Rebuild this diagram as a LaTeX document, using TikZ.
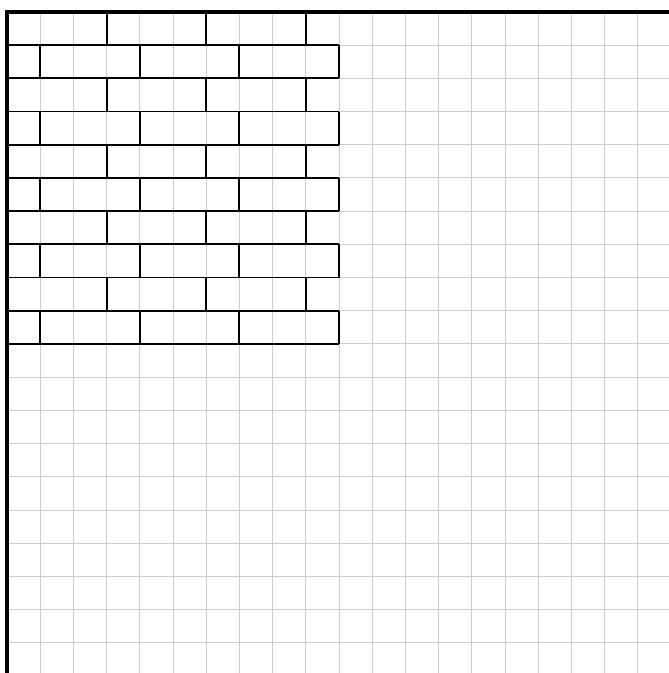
\documentclass[tikz,border=0pt]{standalone}
\usepackage{tikz}

\begin{document}
\begin{tikzpicture}[x=1cm,y=1cm,
    gridline/.style={black!20,line width=0.8pt},
    brick/.style={black,line width=1.6pt},
    wall/.style={black,line width=3.4pt,line join=miter}]
  \useasboundingbox (-0.21,0.09) rectangle (19.91,20.36);
  % squared paper, 20 x 20
  \draw[gridline] (0,0) grid (20,20);
  % ten courses of bricks, running bond
  \foreach \y in {10,...,19} \draw[brick] (0,\y)--(10,\y);
  \foreach \t in {20,18,...,12} \foreach \x in {3,6,9} \draw[brick] (\x,\t)--(\x,\t-1);
  \foreach \t in {19,17,...,11} \foreach \x in {1,4,7,10} \draw[brick] (\x,\t)--(\x,\t-1);
  % thick edges
  \draw[wall] (0,0)--(0,20)--(20,20);
\end{tikzpicture}
\end{document}
